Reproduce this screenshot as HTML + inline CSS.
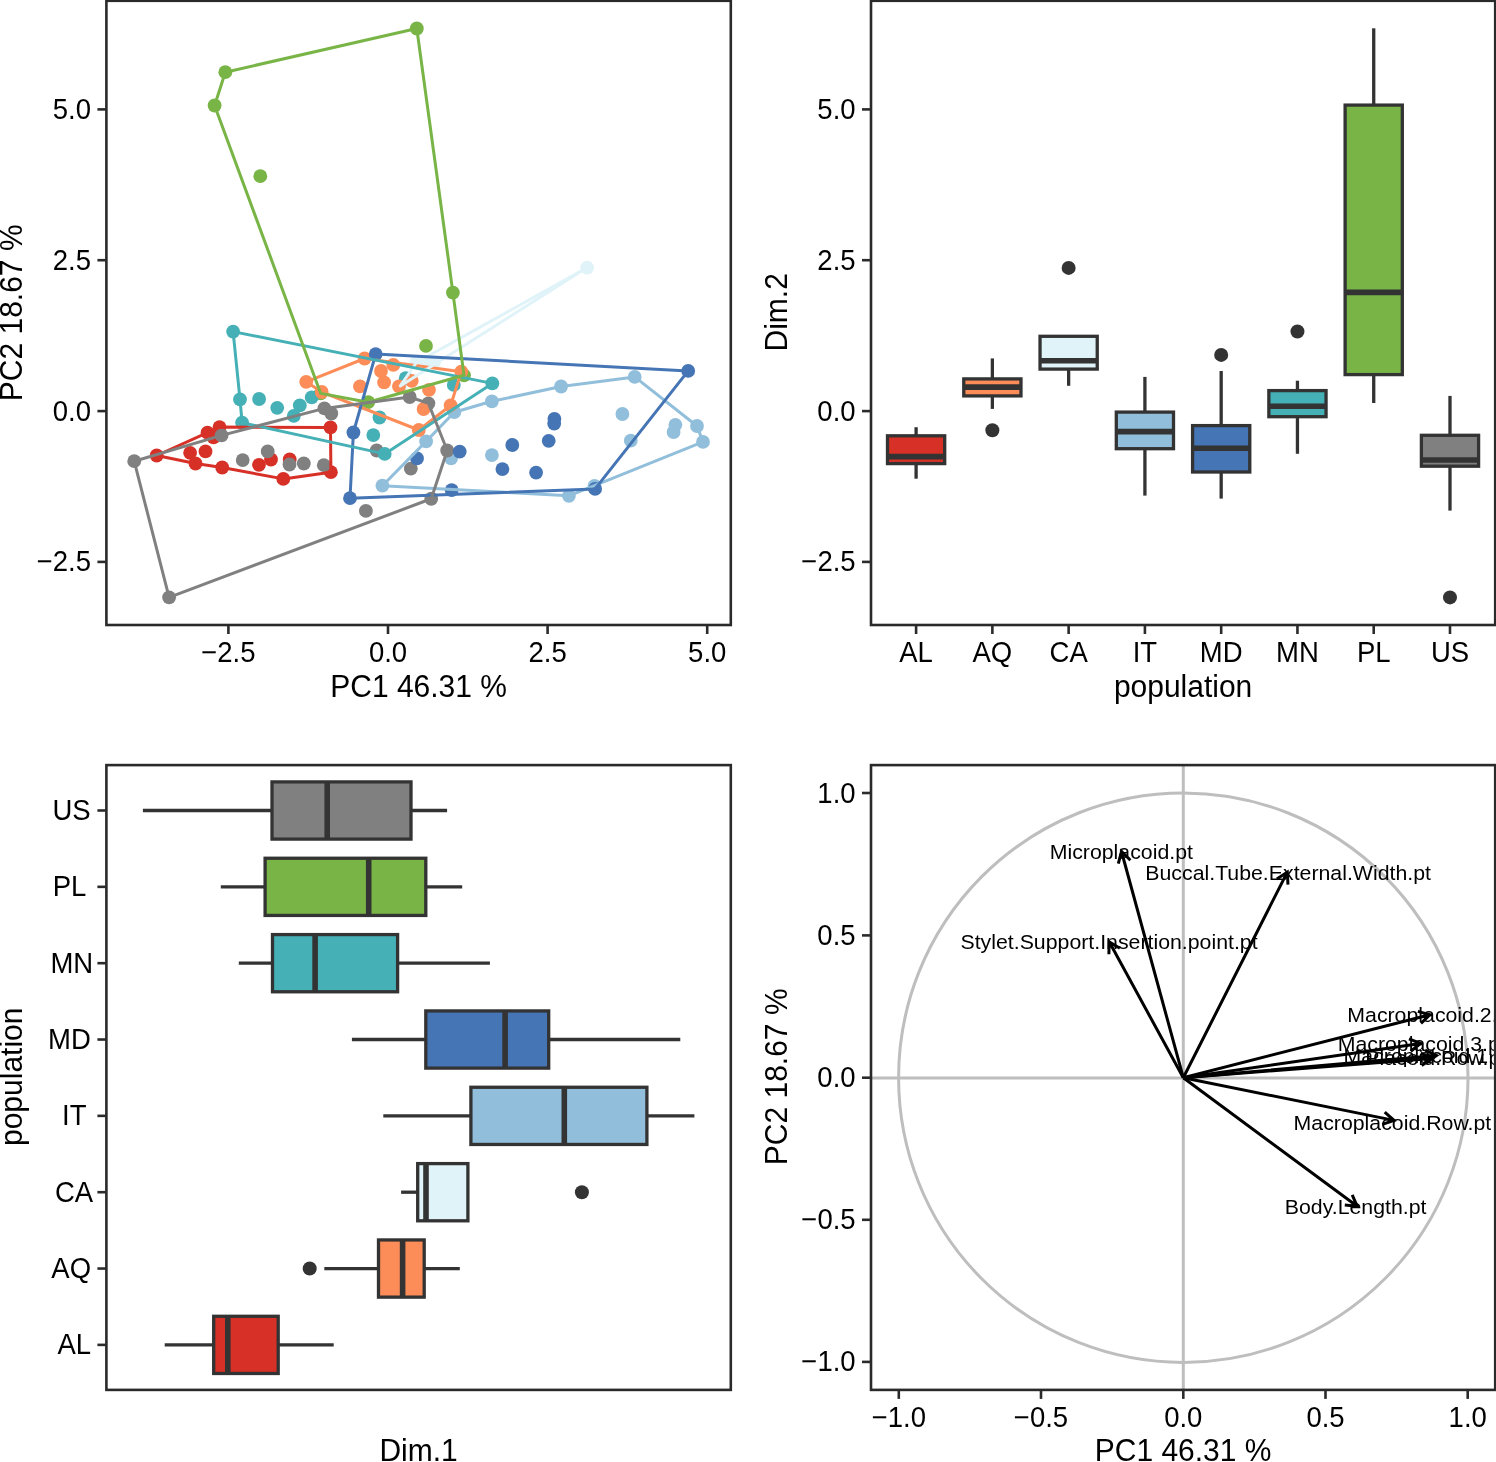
<!DOCTYPE html><html><head><meta charset="utf-8"><title>PCA</title><style>html,body{margin:0;padding:0;background:#fff;}svg{display:block;}text{font-family:"Liberation Sans",sans-serif;}svg{will-change:transform;}</style></head><body>
<svg width="1496" height="1462" viewBox="0 0 1496 1462">
<rect width="1496" height="1462" fill="#fff"/>
<g>
<circle cx="416.8" cy="28.5" r="6.9" fill="#78B446"/>
<circle cx="225.3" cy="72.2" r="6.9" fill="#78B446"/>
<circle cx="214.6" cy="105.5" r="6.9" fill="#78B446"/>
<circle cx="260.3" cy="176.2" r="6.9" fill="#78B446"/>
<circle cx="452.9" cy="292.6" r="6.9" fill="#78B446"/>
<circle cx="426" cy="345.9" r="6.9" fill="#78B446"/>
<circle cx="320.7" cy="393.4" r="6.9" fill="#78B446"/>
<circle cx="368.2" cy="402.2" r="6.9" fill="#78B446"/>
<circle cx="464" cy="375.3" r="6.9" fill="#78B446"/>
<circle cx="156.7" cy="455.5" r="6.9" fill="#D73027"/>
<circle cx="207.5" cy="432.7" r="6.9" fill="#D73027"/>
<circle cx="219.5" cy="427.1" r="6.9" fill="#D73027"/>
<circle cx="213.5" cy="437.4" r="6.9" fill="#D73027"/>
<circle cx="190.1" cy="452.8" r="6.9" fill="#D73027"/>
<circle cx="205.5" cy="451.4" r="6.9" fill="#D73027"/>
<circle cx="195.5" cy="463.5" r="6.9" fill="#D73027"/>
<circle cx="222.2" cy="467.5" r="6.9" fill="#D73027"/>
<circle cx="259" cy="464.8" r="6.9" fill="#D73027"/>
<circle cx="271" cy="459.5" r="6.9" fill="#D73027"/>
<circle cx="289.7" cy="459.5" r="6.9" fill="#D73027"/>
<circle cx="283.3" cy="478.9" r="6.9" fill="#D73027"/>
<circle cx="330.5" cy="427.4" r="6.9" fill="#D73027"/>
<circle cx="330.9" cy="472.2" r="6.9" fill="#D73027"/>
<circle cx="491.9" cy="401.3" r="6.9" fill="#91BFDB"/>
<circle cx="561.1" cy="386.5" r="6.9" fill="#91BFDB"/>
<circle cx="634.7" cy="376.9" r="6.9" fill="#91BFDB"/>
<circle cx="697" cy="426" r="6.9" fill="#91BFDB"/>
<circle cx="703" cy="441.9" r="6.9" fill="#91BFDB"/>
<circle cx="568.9" cy="495.8" r="6.9" fill="#91BFDB"/>
<circle cx="382.4" cy="485.7" r="6.9" fill="#91BFDB"/>
<circle cx="426.1" cy="441.4" r="6.9" fill="#91BFDB"/>
<circle cx="454.3" cy="412.2" r="6.9" fill="#91BFDB"/>
<circle cx="622.4" cy="414" r="6.9" fill="#91BFDB"/>
<circle cx="675.4" cy="424.8" r="6.9" fill="#91BFDB"/>
<circle cx="673.6" cy="432" r="6.9" fill="#91BFDB"/>
<circle cx="630.8" cy="440.7" r="6.9" fill="#91BFDB"/>
<circle cx="491.9" cy="455.1" r="6.9" fill="#91BFDB"/>
<circle cx="451.1" cy="458.4" r="6.9" fill="#91BFDB"/>
<circle cx="594.5" cy="486" r="6.9" fill="#91BFDB"/>
<circle cx="134.2" cy="461.2" r="6.9" fill="#808080"/>
<circle cx="169.1" cy="597.3" r="6.9" fill="#808080"/>
<circle cx="221.6" cy="435.4" r="6.9" fill="#808080"/>
<circle cx="242.7" cy="460.1" r="6.9" fill="#808080"/>
<circle cx="267.7" cy="451.4" r="6.9" fill="#808080"/>
<circle cx="289.5" cy="464.5" r="6.9" fill="#808080"/>
<circle cx="303.8" cy="463.5" r="6.9" fill="#808080"/>
<circle cx="323.8" cy="465.2" r="6.9" fill="#808080"/>
<circle cx="324.4" cy="408.4" r="6.9" fill="#808080"/>
<circle cx="331.3" cy="413.5" r="6.9" fill="#808080"/>
<circle cx="376.7" cy="450.5" r="6.9" fill="#808080"/>
<circle cx="365.9" cy="510.9" r="6.9" fill="#808080"/>
<circle cx="409.7" cy="397" r="6.9" fill="#808080"/>
<circle cx="428.4" cy="403.3" r="6.9" fill="#808080"/>
<circle cx="447.2" cy="450.5" r="6.9" fill="#808080"/>
<circle cx="410.8" cy="468.6" r="6.9" fill="#808080"/>
<circle cx="431.25" cy="498.75" r="6.9" fill="#808080"/>
<circle cx="587.1" cy="267.6" r="6.9" fill="#E0F3F8"/>
<circle cx="416.5" cy="362.5" r="6.9" fill="#E0F3F8"/>
<circle cx="400.3" cy="385.9" r="6.9" fill="#E0F3F8"/>
<circle cx="426" cy="362.2" r="6.9" fill="#E0F3F8"/>
<circle cx="434" cy="362.4" r="6.9" fill="#E0F3F8"/>
<circle cx="233.1" cy="331.6" r="6.9" fill="#45B0B5"/>
<circle cx="240" cy="399.4" r="6.9" fill="#45B0B5"/>
<circle cx="242.1" cy="422.7" r="6.9" fill="#45B0B5"/>
<circle cx="259.1" cy="399" r="6.9" fill="#45B0B5"/>
<circle cx="277.2" cy="407.8" r="6.9" fill="#45B0B5"/>
<circle cx="299.8" cy="405.4" r="6.9" fill="#45B0B5"/>
<circle cx="293.8" cy="415.9" r="6.9" fill="#45B0B5"/>
<circle cx="311.7" cy="397.4" r="6.9" fill="#45B0B5"/>
<circle cx="379.5" cy="417.5" r="6.9" fill="#45B0B5"/>
<circle cx="373.3" cy="435.1" r="6.9" fill="#45B0B5"/>
<circle cx="384.7" cy="453.9" r="6.9" fill="#45B0B5"/>
<circle cx="453.8" cy="384.9" r="6.9" fill="#45B0B5"/>
<circle cx="492.3" cy="383.4" r="6.9" fill="#45B0B5"/>
<circle cx="405.7" cy="378.2" r="6.9" fill="#45B0B5"/>
<circle cx="306.2" cy="381.8" r="6.9" fill="#FC8D59"/>
<circle cx="321.7" cy="392" r="6.9" fill="#FC8D59"/>
<circle cx="364.6" cy="358.5" r="6.9" fill="#FC8D59"/>
<circle cx="393.3" cy="364.9" r="6.9" fill="#FC8D59"/>
<circle cx="381" cy="371" r="6.9" fill="#FC8D59"/>
<circle cx="384.1" cy="382.3" r="6.9" fill="#FC8D59"/>
<circle cx="360" cy="386.4" r="6.9" fill="#FC8D59"/>
<circle cx="399" cy="386.4" r="6.9" fill="#FC8D59"/>
<circle cx="411.8" cy="380.8" r="6.9" fill="#FC8D59"/>
<circle cx="429" cy="389.8" r="6.9" fill="#FC8D59"/>
<circle cx="423.6" cy="409" r="6.9" fill="#FC8D59"/>
<circle cx="461.3" cy="371.7" r="6.9" fill="#FC8D59"/>
<circle cx="450.6" cy="405.5" r="6.9" fill="#FC8D59"/>
<circle cx="418.8" cy="430" r="6.9" fill="#FC8D59"/>
<circle cx="375.7" cy="354.1" r="6.9" fill="#4575B4"/>
<circle cx="688.2" cy="370.9" r="6.9" fill="#4575B4"/>
<circle cx="595.1" cy="488.9" r="6.9" fill="#4575B4"/>
<circle cx="350" cy="498.2" r="6.9" fill="#4575B4"/>
<circle cx="353.4" cy="432.5" r="6.9" fill="#4575B4"/>
<circle cx="554.4" cy="418.8" r="6.9" fill="#4575B4"/>
<circle cx="554.2" cy="423.6" r="6.9" fill="#4575B4"/>
<circle cx="548.7" cy="440.8" r="6.9" fill="#4575B4"/>
<circle cx="512.3" cy="445" r="6.9" fill="#4575B4"/>
<circle cx="459.7" cy="451.6" r="6.9" fill="#4575B4"/>
<circle cx="417" cy="458.4" r="6.9" fill="#4575B4"/>
<circle cx="502.4" cy="469.1" r="6.9" fill="#4575B4"/>
<circle cx="536.1" cy="472.6" r="6.9" fill="#4575B4"/>
<circle cx="451.7" cy="490.2" r="6.9" fill="#4575B4"/>
<polygon points="156.7,455.5 207.5,432.7 219.5,427.1 330.5,427.4 330.9,472.2 283.3,478.9 222.2,467.5 195.5,463.5" fill="none" stroke="#D73027" stroke-width="3.0" stroke-linejoin="round"/>
<polygon points="306.2,381.8 364.6,358.5 461.3,371.7 450.6,405.5 418.8,430 321.7,392" fill="none" stroke="#FC8D59" stroke-width="3.0" stroke-linejoin="round"/>
<polygon points="587.1,267.6 416.5,362.5 400.3,385.9" fill="none" stroke="#E0F3F8" stroke-width="3.0" stroke-linejoin="round"/>
<polygon points="491.9,401.3 561.1,386.5 634.7,376.9 697,426 703,441.9 568.9,495.8 382.4,485.7 426.1,441.4 454.3,412.2" fill="none" stroke="#91BFDB" stroke-width="3.0" stroke-linejoin="round"/>
<polygon points="375.7,354.1 688.2,370.9 595.1,488.9 350,498.2 353.4,432.5" fill="none" stroke="#4575B4" stroke-width="3.0" stroke-linejoin="round"/>
<polygon points="233.1,331.6 492.3,383.4 384.7,453.9 242.1,422.7 240,399.4" fill="none" stroke="#45B0B5" stroke-width="3.0" stroke-linejoin="round"/>
<polygon points="416.8,28.5 225.3,72.2 214.6,105.5 320.7,393.4 368.2,402.2 464,375.3 452.9,292.6" fill="none" stroke="#78B446" stroke-width="3.0" stroke-linejoin="round"/>
<polygon points="134.2,461.2 221.6,435.4 324.4,408.4 409.7,397 428.4,403.3 447.2,450.5 431.25,498.75 169.1,597.3" fill="none" stroke="#808080" stroke-width="3.0" stroke-linejoin="round"/>
</g>
<rect x="106.4" y="0.8" width="624.4" height="624.2" fill="none" stroke="#2a2a2a" stroke-width="2.6"/>
<line x1="228.4" y1="625" x2="228.4" y2="634" stroke="#2b2b2b" stroke-width="2.6"/>
<text transform="translate(228.4 662.2) scale(1 1.04)" font-size="27.5" text-anchor="middle" fill="#000">−2.5</text>
<line x1="388" y1="625" x2="388" y2="634" stroke="#2b2b2b" stroke-width="2.6"/>
<text transform="translate(388 662.2) scale(1 1.04)" font-size="27.5" text-anchor="middle" fill="#000">0.0</text>
<line x1="547.6" y1="625" x2="547.6" y2="634" stroke="#2b2b2b" stroke-width="2.6"/>
<text transform="translate(547.6 662.2) scale(1 1.04)" font-size="27.5" text-anchor="middle" fill="#000">2.5</text>
<line x1="707.2" y1="625" x2="707.2" y2="634" stroke="#2b2b2b" stroke-width="2.6"/>
<text transform="translate(707.2 662.2) scale(1 1.04)" font-size="27.5" text-anchor="middle" fill="#000">5.0</text>
<line x1="97.4" y1="109.4" x2="106.4" y2="109.4" stroke="#2b2b2b" stroke-width="2.6"/>
<text transform="translate(91 118.9) scale(1 1.04)" font-size="27.5" text-anchor="end" fill="#000">5.0</text>
<line x1="97.4" y1="260.2" x2="106.4" y2="260.2" stroke="#2b2b2b" stroke-width="2.6"/>
<text transform="translate(91 269.7) scale(1 1.04)" font-size="27.5" text-anchor="end" fill="#000">2.5</text>
<line x1="97.4" y1="411.1" x2="106.4" y2="411.1" stroke="#2b2b2b" stroke-width="2.6"/>
<text transform="translate(91 420.6) scale(1 1.04)" font-size="27.5" text-anchor="end" fill="#000">0.0</text>
<line x1="97.4" y1="561.9" x2="106.4" y2="561.9" stroke="#2b2b2b" stroke-width="2.6"/>
<text transform="translate(91 571.4) scale(1 1.04)" font-size="27.5" text-anchor="end" fill="#000">−2.5</text>
<text transform="translate(418.6 697.3) scale(1 1.07)" font-size="30" text-anchor="middle" fill="#000">PC1 46.31 %</text>
<text transform="translate(22.3 312.8) rotate(-90) scale(1 1.07)" font-size="30" text-anchor="middle" fill="#000">PC2 18.67 %</text>
<line x1="916.1" y1="427.2" x2="916.1" y2="435.8" stroke="#333333" stroke-width="3.3"/>
<line x1="916.1" y1="463.6" x2="916.1" y2="478.7" stroke="#333333" stroke-width="3.3"/>
<rect x="887.5" y="435.8" width="57.2" height="27.8" fill="#D73027" stroke="#333333" stroke-width="3.3"/>
<line x1="887.5" y1="456.6" x2="944.7" y2="456.6" stroke="#333333" stroke-width="5.6"/>
<line x1="992.37" y1="358.4" x2="992.37" y2="378.9" stroke="#333333" stroke-width="3.3"/>
<line x1="992.37" y1="395.9" x2="992.37" y2="408.9" stroke="#333333" stroke-width="3.3"/>
<rect x="963.77" y="378.9" width="57.2" height="17" fill="#FC8D59" stroke="#333333" stroke-width="3.3"/>
<line x1="963.77" y1="387.1" x2="1020.97" y2="387.1" stroke="#333333" stroke-width="5.6"/>
<circle cx="992.37" cy="430.2" r="7" fill="#333333"/>
<line x1="1068.64" y1="369.1" x2="1068.64" y2="385.8" stroke="#333333" stroke-width="3.3"/>
<rect x="1040.04" y="336.3" width="57.2" height="32.8" fill="#E0F3F8" stroke="#333333" stroke-width="3.3"/>
<line x1="1040.04" y1="360.8" x2="1097.24" y2="360.8" stroke="#333333" stroke-width="5.6"/>
<circle cx="1068.64" cy="267.9" r="7" fill="#333333"/>
<line x1="1144.91" y1="376.9" x2="1144.91" y2="412.1" stroke="#333333" stroke-width="3.3"/>
<line x1="1144.91" y1="448.7" x2="1144.91" y2="495.6" stroke="#333333" stroke-width="3.3"/>
<rect x="1116.31" y="412.1" width="57.2" height="36.6" fill="#91BFDB" stroke="#333333" stroke-width="3.3"/>
<line x1="1116.31" y1="431.6" x2="1173.51" y2="431.6" stroke="#333333" stroke-width="5.6"/>
<line x1="1221.18" y1="371" x2="1221.18" y2="425.6" stroke="#333333" stroke-width="3.3"/>
<line x1="1221.18" y1="472" x2="1221.18" y2="498.6" stroke="#333333" stroke-width="3.3"/>
<rect x="1192.58" y="425.6" width="57.2" height="46.4" fill="#4575B4" stroke="#333333" stroke-width="3.3"/>
<line x1="1192.58" y1="448.3" x2="1249.78" y2="448.3" stroke="#333333" stroke-width="5.6"/>
<circle cx="1221.18" cy="354.9" r="7" fill="#333333"/>
<line x1="1297.45" y1="380.7" x2="1297.45" y2="390.6" stroke="#333333" stroke-width="3.3"/>
<line x1="1297.45" y1="416.7" x2="1297.45" y2="453.8" stroke="#333333" stroke-width="3.3"/>
<rect x="1268.85" y="390.6" width="57.2" height="26.1" fill="#45B0B5" stroke="#333333" stroke-width="3.3"/>
<line x1="1268.85" y1="406.2" x2="1326.05" y2="406.2" stroke="#333333" stroke-width="5.6"/>
<circle cx="1297.45" cy="331.5" r="7" fill="#333333"/>
<line x1="1373.72" y1="28.3" x2="1373.72" y2="105.1" stroke="#333333" stroke-width="3.3"/>
<line x1="1373.72" y1="374.6" x2="1373.72" y2="403" stroke="#333333" stroke-width="3.3"/>
<rect x="1345.12" y="105.1" width="57.2" height="269.5" fill="#78B446" stroke="#333333" stroke-width="3.3"/>
<line x1="1345.12" y1="292.4" x2="1402.32" y2="292.4" stroke="#333333" stroke-width="5.6"/>
<line x1="1449.99" y1="395.9" x2="1449.99" y2="435.3" stroke="#333333" stroke-width="3.3"/>
<line x1="1449.99" y1="466.2" x2="1449.99" y2="510.6" stroke="#333333" stroke-width="3.3"/>
<rect x="1421.39" y="435.3" width="57.2" height="30.9" fill="#808080" stroke="#333333" stroke-width="3.3"/>
<line x1="1421.39" y1="460" x2="1478.59" y2="460" stroke="#333333" stroke-width="5.6"/>
<circle cx="1449.99" cy="597.4" r="7" fill="#333333"/>
<rect x="871" y="0.8" width="624.2" height="624.2" fill="none" stroke="#2a2a2a" stroke-width="2.6"/>
<line x1="916.1" y1="625" x2="916.1" y2="634" stroke="#2b2b2b" stroke-width="2.6"/>
<text transform="translate(916.1 662.2) scale(1 1.04)" font-size="27.5" text-anchor="middle" fill="#000">AL</text>
<line x1="992.37" y1="625" x2="992.37" y2="634" stroke="#2b2b2b" stroke-width="2.6"/>
<text transform="translate(992.37 662.2) scale(1 1.04)" font-size="27.5" text-anchor="middle" fill="#000">AQ</text>
<line x1="1068.64" y1="625" x2="1068.64" y2="634" stroke="#2b2b2b" stroke-width="2.6"/>
<text transform="translate(1068.64 662.2) scale(1 1.04)" font-size="27.5" text-anchor="middle" fill="#000">CA</text>
<line x1="1144.91" y1="625" x2="1144.91" y2="634" stroke="#2b2b2b" stroke-width="2.6"/>
<text transform="translate(1144.91 662.2) scale(1 1.04)" font-size="27.5" text-anchor="middle" fill="#000">IT</text>
<line x1="1221.18" y1="625" x2="1221.18" y2="634" stroke="#2b2b2b" stroke-width="2.6"/>
<text transform="translate(1221.18 662.2) scale(1 1.04)" font-size="27.5" text-anchor="middle" fill="#000">MD</text>
<line x1="1297.45" y1="625" x2="1297.45" y2="634" stroke="#2b2b2b" stroke-width="2.6"/>
<text transform="translate(1297.45 662.2) scale(1 1.04)" font-size="27.5" text-anchor="middle" fill="#000">MN</text>
<line x1="1373.72" y1="625" x2="1373.72" y2="634" stroke="#2b2b2b" stroke-width="2.6"/>
<text transform="translate(1373.72 662.2) scale(1 1.04)" font-size="27.5" text-anchor="middle" fill="#000">PL</text>
<line x1="1449.99" y1="625" x2="1449.99" y2="634" stroke="#2b2b2b" stroke-width="2.6"/>
<text transform="translate(1449.99 662.2) scale(1 1.04)" font-size="27.5" text-anchor="middle" fill="#000">US</text>
<line x1="862" y1="109.4" x2="871" y2="109.4" stroke="#2b2b2b" stroke-width="2.6"/>
<text transform="translate(855.6 118.9) scale(1 1.04)" font-size="27.5" text-anchor="end" fill="#000">5.0</text>
<line x1="862" y1="260.2" x2="871" y2="260.2" stroke="#2b2b2b" stroke-width="2.6"/>
<text transform="translate(855.6 269.7) scale(1 1.04)" font-size="27.5" text-anchor="end" fill="#000">2.5</text>
<line x1="862" y1="411.1" x2="871" y2="411.1" stroke="#2b2b2b" stroke-width="2.6"/>
<text transform="translate(855.6 420.6) scale(1 1.04)" font-size="27.5" text-anchor="end" fill="#000">0.0</text>
<line x1="862" y1="561.9" x2="871" y2="561.9" stroke="#2b2b2b" stroke-width="2.6"/>
<text transform="translate(855.6 571.4) scale(1 1.04)" font-size="27.5" text-anchor="end" fill="#000">−2.5</text>
<text transform="translate(1183.1 696.9) scale(1 1.07)" font-size="30" text-anchor="middle" fill="#000">population</text>
<text transform="translate(786.8 312.3) rotate(-90) scale(1 1.07)" font-size="30" text-anchor="middle" fill="#000">Dim.2</text>
<line x1="142.9" y1="810.5" x2="272" y2="810.5" stroke="#333333" stroke-width="3.3"/>
<line x1="411" y1="810.5" x2="447.1" y2="810.5" stroke="#333333" stroke-width="3.3"/>
<rect x="272" y="781.9" width="139" height="57.2" fill="#808080" stroke="#333333" stroke-width="3.3"/>
<line x1="327.2" y1="781.9" x2="327.2" y2="839.1" stroke="#333333" stroke-width="5.6"/>
<line x1="220.8" y1="886.84" x2="265.1" y2="886.84" stroke="#333333" stroke-width="3.3"/>
<line x1="425.8" y1="886.84" x2="462.2" y2="886.84" stroke="#333333" stroke-width="3.3"/>
<rect x="265.1" y="858.24" width="160.7" height="57.2" fill="#78B446" stroke="#333333" stroke-width="3.3"/>
<line x1="368.7" y1="858.24" x2="368.7" y2="915.44" stroke="#333333" stroke-width="5.6"/>
<line x1="238.8" y1="963.18" x2="272.5" y2="963.18" stroke="#333333" stroke-width="3.3"/>
<line x1="397.6" y1="963.18" x2="489.9" y2="963.18" stroke="#333333" stroke-width="3.3"/>
<rect x="272.5" y="934.58" width="125.1" height="57.2" fill="#45B0B5" stroke="#333333" stroke-width="3.3"/>
<line x1="315.1" y1="934.58" x2="315.1" y2="991.78" stroke="#333333" stroke-width="5.6"/>
<line x1="351.9" y1="1039.52" x2="425.8" y2="1039.52" stroke="#333333" stroke-width="3.3"/>
<line x1="548.7" y1="1039.52" x2="680.3" y2="1039.52" stroke="#333333" stroke-width="3.3"/>
<rect x="425.8" y="1010.92" width="122.9" height="57.2" fill="#4575B4" stroke="#333333" stroke-width="3.3"/>
<line x1="505.1" y1="1010.92" x2="505.1" y2="1068.12" stroke="#333333" stroke-width="5.6"/>
<line x1="383.3" y1="1115.86" x2="470.9" y2="1115.86" stroke="#333333" stroke-width="3.3"/>
<line x1="646.9" y1="1115.86" x2="694.4" y2="1115.86" stroke="#333333" stroke-width="3.3"/>
<rect x="470.9" y="1087.26" width="176" height="57.2" fill="#91BFDB" stroke="#333333" stroke-width="3.3"/>
<line x1="564.3" y1="1087.26" x2="564.3" y2="1144.46" stroke="#333333" stroke-width="5.6"/>
<line x1="401.1" y1="1192.2" x2="417.7" y2="1192.2" stroke="#333333" stroke-width="3.3"/>
<rect x="417.7" y="1163.6" width="50.2" height="57.2" fill="#E0F3F8" stroke="#333333" stroke-width="3.3"/>
<line x1="426" y1="1163.6" x2="426" y2="1220.8" stroke="#333333" stroke-width="5.6"/>
<circle cx="581.9" cy="1192.2" r="7" fill="#333333"/>
<line x1="324.3" y1="1268.54" x2="378.5" y2="1268.54" stroke="#333333" stroke-width="3.3"/>
<line x1="424.2" y1="1268.54" x2="459.8" y2="1268.54" stroke="#333333" stroke-width="3.3"/>
<rect x="378.5" y="1239.94" width="45.7" height="57.2" fill="#FC8D59" stroke="#333333" stroke-width="3.3"/>
<line x1="402.6" y1="1239.94" x2="402.6" y2="1297.14" stroke="#333333" stroke-width="5.6"/>
<circle cx="309.7" cy="1268.54" r="7" fill="#333333"/>
<line x1="164.7" y1="1344.88" x2="213.7" y2="1344.88" stroke="#333333" stroke-width="3.3"/>
<line x1="278.2" y1="1344.88" x2="333.7" y2="1344.88" stroke="#333333" stroke-width="3.3"/>
<rect x="213.7" y="1316.28" width="64.5" height="57.2" fill="#D73027" stroke="#333333" stroke-width="3.3"/>
<line x1="227.8" y1="1316.28" x2="227.8" y2="1373.48" stroke="#333333" stroke-width="5.6"/>
<rect x="106.4" y="765.1" width="624.4" height="624.8" fill="none" stroke="#2a2a2a" stroke-width="2.6"/>
<line x1="97.4" y1="810.5" x2="106.4" y2="810.5" stroke="#2b2b2b" stroke-width="2.6"/>
<text transform="translate(90.7 820) scale(1 1.04)" font-size="27.5" text-anchor="end" fill="#000">US</text>
<line x1="97.4" y1="886.84" x2="106.4" y2="886.84" stroke="#2b2b2b" stroke-width="2.6"/>
<text transform="translate(86.3 896.34) scale(1 1.04)" font-size="27.5" text-anchor="end" fill="#000">PL</text>
<line x1="97.4" y1="963.18" x2="106.4" y2="963.18" stroke="#2b2b2b" stroke-width="2.6"/>
<text transform="translate(93.2 972.68) scale(1 1.04)" font-size="27.5" text-anchor="end" fill="#000">MN</text>
<line x1="97.4" y1="1039.52" x2="106.4" y2="1039.52" stroke="#2b2b2b" stroke-width="2.6"/>
<text transform="translate(90.8 1049.02) scale(1 1.04)" font-size="27.5" text-anchor="end" fill="#000">MD</text>
<line x1="97.4" y1="1115.86" x2="106.4" y2="1115.86" stroke="#2b2b2b" stroke-width="2.6"/>
<text transform="translate(86.5 1125.36) scale(1 1.04)" font-size="27.5" text-anchor="end" fill="#000">IT</text>
<line x1="97.4" y1="1192.2" x2="106.4" y2="1192.2" stroke="#2b2b2b" stroke-width="2.6"/>
<text transform="translate(93.2 1201.7) scale(1 1.04)" font-size="27.5" text-anchor="end" fill="#000">CA</text>
<line x1="97.4" y1="1268.54" x2="106.4" y2="1268.54" stroke="#2b2b2b" stroke-width="2.6"/>
<text transform="translate(91.1 1278.04) scale(1 1.04)" font-size="27.5" text-anchor="end" fill="#000">AQ</text>
<line x1="97.4" y1="1344.88" x2="106.4" y2="1344.88" stroke="#2b2b2b" stroke-width="2.6"/>
<text transform="translate(91.1 1354.38) scale(1 1.04)" font-size="27.5" text-anchor="end" fill="#000">AL</text>
<text transform="translate(418.6 1460.8) scale(1 1.07)" font-size="30" text-anchor="middle" fill="#000">Dim.1</text>
<text transform="translate(22.3 1076.8) rotate(-90) scale(1 1.07)" font-size="30" text-anchor="middle" fill="#000">population</text>
<g>
<circle cx="1183.3" cy="1077.7" r="284.7" fill="none" stroke="#BEBEBE" stroke-width="3"/>
<line x1="871" y1="1077.9" x2="1495.2" y2="1077.9" stroke="#BEBEBE" stroke-width="3"/>
<line x1="1183.3" y1="765.1" x2="1183.3" y2="1389.9" stroke="#BEBEBE" stroke-width="3"/>
<path d="M1183.3,1077.7 L1121.5,851.5 M1118.32,863.59 L1121.5,851.5 L1130.38,860.3" fill="none" stroke="#000" stroke-width="3" stroke-linejoin="miter"/>
<path d="M1183.3,1077.7 L1287.3,872.1 M1276.84,878.94 L1287.3,872.1 L1287.99,884.58" fill="none" stroke="#000" stroke-width="3" stroke-linejoin="miter"/>
<path d="M1183.3,1077.7 L1109.2,941.8 M1108.89,954.3 L1109.2,941.8 L1119.87,948.31" fill="none" stroke="#000" stroke-width="3" stroke-linejoin="miter"/>
<path d="M1183.3,1077.7 L1429.9,1014.7 M1417.86,1011.32 L1429.9,1014.7 L1420.96,1023.44" fill="none" stroke="#000" stroke-width="3" stroke-linejoin="miter"/>
<path d="M1183.3,1077.7 L1420.6,1043.5 M1408.99,1038.86 L1420.6,1043.5 L1410.78,1051.23" fill="none" stroke="#000" stroke-width="3" stroke-linejoin="miter"/>
<path d="M1183.3,1077.7 L1436.5,1055.5 M1425.17,1050.22 L1436.5,1055.5 L1426.26,1062.67" fill="none" stroke="#000" stroke-width="3" stroke-linejoin="miter"/>
<path d="M1183.3,1077.7 L1432,1058.5 M1420.73,1053.1 L1432,1058.5 L1421.69,1065.56" fill="none" stroke="#000" stroke-width="3" stroke-linejoin="miter"/>
<path d="M1183.3,1077.7 L1394.1,1120.4 M1384.73,1112.13 L1394.1,1120.4 L1382.25,1124.38" fill="none" stroke="#000" stroke-width="3" stroke-linejoin="miter"/>
<path d="M1183.3,1077.7 L1357.2,1206.3 M1352.21,1194.84 L1357.2,1206.3 L1344.78,1204.89" fill="none" stroke="#000" stroke-width="3" stroke-linejoin="miter"/>
<text transform="translate(1049.7 859.1) scale(1 0.99)" font-size="21.3" text-anchor="start" fill="#000">Microplacoid.pt</text>
<text transform="translate(1145.3 880.1) scale(1 0.99)" font-size="21.3" text-anchor="start" fill="#000">Buccal.Tube.External.Width.pt</text>
<text transform="translate(960.5 949.3) scale(1 0.99)" font-size="21.3" text-anchor="start" fill="#000">Stylet.Support.Insertion.point.pt</text>
<text transform="translate(1347.3 1021.6) scale(1 0.99)" font-size="21.3" text-anchor="start" fill="#000">Macroplacoid.2.pt</text>
<text transform="translate(1337.7 1051.2) scale(1 0.99)" font-size="21.3" text-anchor="start" fill="#000">Macroplacoid.3.pt</text>
<text transform="translate(1343.6 1062.5) scale(1 0.99)" font-size="21.3" text-anchor="start" fill="#000">Macroplacoid.1.pt</text>
<text transform="translate(1365.3 1065) scale(1 0.99)" font-size="21.3" text-anchor="start" fill="#000">Placoid.Row.pt</text>
<text transform="translate(1293.6 1129.9) scale(1 0.99)" font-size="21.3" text-anchor="start" fill="#000">Macroplacoid.Row.pt</text>
<text transform="translate(1284.8 1214.1) scale(1 0.99)" font-size="21.3" text-anchor="start" fill="#000">Body.Length.pt</text>
</g>
<rect x="871" y="765.1" width="624.2" height="624.8" fill="none" stroke="#2a2a2a" stroke-width="2.6"/>
<line x1="898.8" y1="1389.9" x2="898.8" y2="1398.9" stroke="#2b2b2b" stroke-width="2.6"/>
<text transform="translate(898.8 1426.6) scale(1 1.04)" font-size="27.5" text-anchor="middle" fill="#000">−1.0</text>
<line x1="1041" y1="1389.9" x2="1041" y2="1398.9" stroke="#2b2b2b" stroke-width="2.6"/>
<text transform="translate(1041 1426.6) scale(1 1.04)" font-size="27.5" text-anchor="middle" fill="#000">−0.5</text>
<line x1="1183.3" y1="1389.9" x2="1183.3" y2="1398.9" stroke="#2b2b2b" stroke-width="2.6"/>
<text transform="translate(1183.3 1426.6) scale(1 1.04)" font-size="27.5" text-anchor="middle" fill="#000">0.0</text>
<line x1="1325.5" y1="1389.9" x2="1325.5" y2="1398.9" stroke="#2b2b2b" stroke-width="2.6"/>
<text transform="translate(1325.5 1426.6) scale(1 1.04)" font-size="27.5" text-anchor="middle" fill="#000">0.5</text>
<line x1="1467.7" y1="1389.9" x2="1467.7" y2="1398.9" stroke="#2b2b2b" stroke-width="2.6"/>
<text transform="translate(1467.7 1426.6) scale(1 1.04)" font-size="27.5" text-anchor="middle" fill="#000">1.0</text>
<line x1="862" y1="793" x2="871" y2="793" stroke="#2b2b2b" stroke-width="2.6"/>
<text transform="translate(855.6 802.5) scale(1 1.04)" font-size="27.5" text-anchor="end" fill="#000">1.0</text>
<line x1="862" y1="935.4" x2="871" y2="935.4" stroke="#2b2b2b" stroke-width="2.6"/>
<text transform="translate(855.6 944.9) scale(1 1.04)" font-size="27.5" text-anchor="end" fill="#000">0.5</text>
<line x1="862" y1="1077.7" x2="871" y2="1077.7" stroke="#2b2b2b" stroke-width="2.6"/>
<text transform="translate(855.6 1087.2) scale(1 1.04)" font-size="27.5" text-anchor="end" fill="#000">0.0</text>
<line x1="862" y1="1219.8" x2="871" y2="1219.8" stroke="#2b2b2b" stroke-width="2.6"/>
<text transform="translate(855.6 1229.3) scale(1 1.04)" font-size="27.5" text-anchor="end" fill="#000">−0.5</text>
<line x1="862" y1="1361.9" x2="871" y2="1361.9" stroke="#2b2b2b" stroke-width="2.6"/>
<text transform="translate(855.6 1371.4) scale(1 1.04)" font-size="27.5" text-anchor="end" fill="#000">−1.0</text>
<text transform="translate(1183.1 1461) scale(1 1.07)" font-size="30" text-anchor="middle" fill="#000">PC1 46.31 %</text>
<text transform="translate(786.8 1076.8) rotate(-90) scale(1 1.07)" font-size="30" text-anchor="middle" fill="#000">PC2 18.67 %</text>
</svg></body></html>
